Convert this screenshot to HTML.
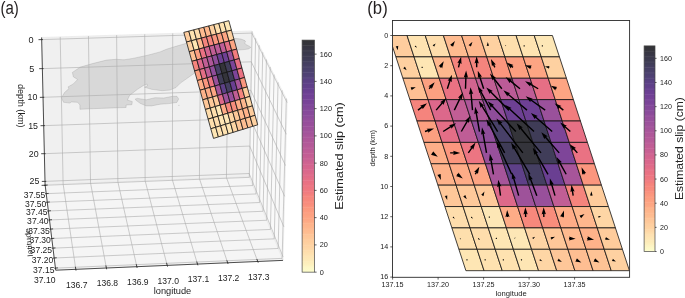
<!DOCTYPE html>
<html><head><meta charset="utf-8"><title>Estimated slip</title>
<style>html,body{margin:0;padding:0;background:#fff}body{width:685px;height:298px;overflow:hidden;font-family:"Liberation Sans",sans-serif}svg{display:block;will-change:transform}</style></head>
<body>
<svg width="685" height="298" viewBox="0 0 685 298" style="display:block">
<rect width="685" height="298" fill="#fff"/>
<polygon points="41.64,37.46 251.84,30.95 249.1,176.68 45.09,184.57" fill="#f0f0f0" stroke="#e6e6e6" stroke-width="0.6" />
<polygon points="251.84,30.95 287.18,100.21 282.97,260.38 249.1,176.68" fill="#f9f9f9" stroke="#e6e6e6" stroke-width="0.6" />
<polygon points="45.09,184.57 249.1,176.68 282.97,260.38 55.7,270.2" fill="#f5f5f5" stroke="#e6e6e6" stroke-width="0.6" />
<g fill="rgba(110,110,110,0.19)" stroke="rgba(90,90,90,0.28)" stroke-width="0.6" stroke-linejoin="round">
<polygon points="80.3,67.1 92.5,63.6 106.5,60.1 116.2,59.3 124,59.8 132.8,58.4 145,55.8 150.5,54.5 160,51.9 166.3,49.3 175,46.6 183.8,44 189,42.3 200,40 220,38 234.6,38.3 241.2,39.1 244.9,40.6 245.6,42 244.5,42.8 245.8,44.5 249.3,46.2 250.8,47.4 248.6,48.9 244.2,49.6 237.9,50 220,60 205,68 195.3,72.6 192.7,74.4 186.5,78.8 180.4,83.1 176,87.5 169.9,90.1 162,90.7 151.5,89.3 144.5,87.2 147.5,85.8 147.1,84 143.6,85.4 137.5,89.3 129.6,95.4 127.4,100.1 132.3,101.5 131.9,104.7 126.1,105 126.1,107.5 113.5,107.9 92.5,108.7 79.9,109.3 79.9,104.9 77.6,102.3 71.5,101.9 69.8,103.1 63.6,102.3 61.4,97.9 64.5,92.6 68.9,88.6 68,86.9 73.3,83.9 77.6,79.5 73.3,76.8 72.4,72.4"/>
<polygon points="135.4,98.9 137.5,98.4 146.3,99.8 155,97.7 163.8,98 172.5,96.3 176.9,96.3 178.7,98.9 176.9,102.4 169,103.6 160.3,104.2 151.5,105.9 146.3,105.9 140.1,103.3 135.8,100.1"/>
<line x1="178" y1="105.4" x2="179.6" y2="105.4"/>
</g>
<g stroke="#ababab" stroke-width="0.6" fill="none">
<polyline points="60.21,36.88 63.11,183.87 75.8,269.33"/>
<polyline points="88.46,36.01 90.53,182.81 106.37,268.01"/>
<polyline points="116.64,35.14 117.86,181.75 136.84,266.69"/>
<polyline points="144.72,34.27 145.12,180.7 167.21,265.38"/>
<polyline points="172.73,33.4 172.3,179.65 197.49,264.07"/>
<polyline points="200.65,32.53 199.41,178.6 227.66,262.77"/>
<polyline points="228.49,31.67 226.43,177.55 257.75,261.47"/>
<polyline points="55.45,268.12 282.15,258.36 286.32,98.53"/>
<polyline points="54.19,258.01 278.15,248.48 282.14,90.34"/>
<polyline points="52.97,248.15 274.25,238.85 278.07,82.35"/>
<polyline points="51.78,238.52 270.45,229.44 274.09,74.55"/>
<polyline points="50.61,229.12 266.73,220.25 270.21,66.95"/>
<polyline points="49.48,219.94 263.1,211.28 266.42,59.52"/>
<polyline points="48.36,210.97 259.55,202.51 262.72,52.27"/>
<polyline points="47.28,202.21 256.08,193.94 259.11,45.19"/>
<polyline points="46.22,193.65 252.69,185.56 255.58,38.28"/>
<polyline points="45.18,185.28 249.38,177.37 252.13,31.52"/>
<polyline points="41.69,39.61 251.8,33.08 287.12,102.56"/>
<polyline points="42.37,68.63 251.26,61.82 286.29,134.23"/>
<polyline points="43.04,97.31 250.72,90.23 285.46,165.5"/>
<polyline points="43.71,125.66 250.2,118.31 284.65,196.36"/>
<polyline points="44.37,153.68 249.67,146.07 283.85,226.83"/>
<polyline points="45.02,181.38 249.16,173.52 283.06,256.92"/>
</g>
<line x1="41.64" y1="37.46" x2="45.09" y2="184.57" stroke="#222" stroke-width="0.8" />
<line x1="45.09" y1="184.57" x2="55.7" y2="270.2" stroke="#222" stroke-width="0.8" />
<line x1="55.7" y1="270.2" x2="282.97" y2="260.38" stroke="#222" stroke-width="0.8" />
<line x1="38.49" y1="39.66" x2="42.89" y2="39.59" stroke="#222" stroke-width="0.8" />
<text x="31.09" y="42.71" font-size="8.7" text-anchor="middle" fill="#222" font-family="Liberation Sans, sans-serif" textLength="5.07" lengthAdjust="spacingAndGlyphs" >0</text>
<line x1="39.17" y1="68.68" x2="43.57" y2="68.61" stroke="#222" stroke-width="0.8" />
<text x="31.77" y="71.73" font-size="8.7" text-anchor="middle" fill="#222" font-family="Liberation Sans, sans-serif" textLength="5.07" lengthAdjust="spacingAndGlyphs" >5</text>
<line x1="39.84" y1="97.36" x2="44.24" y2="97.29" stroke="#222" stroke-width="0.8" />
<text x="32.44" y="100.41" font-size="8.7" text-anchor="middle" fill="#222" font-family="Liberation Sans, sans-serif" textLength="9.84" lengthAdjust="spacingAndGlyphs" >10</text>
<line x1="40.51" y1="125.71" x2="44.91" y2="125.64" stroke="#222" stroke-width="0.8" />
<text x="33.11" y="128.76" font-size="8.7" text-anchor="middle" fill="#222" font-family="Liberation Sans, sans-serif" textLength="9.84" lengthAdjust="spacingAndGlyphs" >15</text>
<line x1="41.17" y1="153.73" x2="45.57" y2="153.66" stroke="#222" stroke-width="0.8" />
<text x="33.77" y="156.78" font-size="8.7" text-anchor="middle" fill="#222" font-family="Liberation Sans, sans-serif" textLength="9.84" lengthAdjust="spacingAndGlyphs" >20</text>
<line x1="41.82" y1="181.43" x2="46.22" y2="181.36" stroke="#222" stroke-width="0.8" />
<text x="34.42" y="184.48" font-size="8.7" text-anchor="middle" fill="#222" font-family="Liberation Sans, sans-serif" textLength="9.84" lengthAdjust="spacingAndGlyphs" >25</text>
<line x1="54.25" y1="268.22" x2="57.95" y2="267.87" stroke="#222" stroke-width="0.8" />
<text x="54.55" y="272.62" font-size="8.7" text-anchor="end" fill="#222" font-family="Liberation Sans, sans-serif" textLength="21.46" lengthAdjust="spacingAndGlyphs" >37.15</text>
<line x1="52.99" y1="258.11" x2="56.69" y2="257.76" stroke="#222" stroke-width="0.8" />
<text x="53.29" y="262.51" font-size="8.7" text-anchor="end" fill="#222" font-family="Liberation Sans, sans-serif" textLength="21.46" lengthAdjust="spacingAndGlyphs" >37.20</text>
<line x1="51.77" y1="248.25" x2="55.47" y2="247.9" stroke="#222" stroke-width="0.8" />
<text x="52.07" y="252.65" font-size="8.7" text-anchor="end" fill="#222" font-family="Liberation Sans, sans-serif" textLength="21.46" lengthAdjust="spacingAndGlyphs" >37.25</text>
<line x1="50.58" y1="238.62" x2="54.28" y2="238.27" stroke="#222" stroke-width="0.8" />
<text x="50.88" y="243.02" font-size="8.7" text-anchor="end" fill="#222" font-family="Liberation Sans, sans-serif" textLength="21.46" lengthAdjust="spacingAndGlyphs" >37.30</text>
<line x1="49.41" y1="229.22" x2="53.11" y2="228.87" stroke="#222" stroke-width="0.8" />
<text x="49.71" y="233.62" font-size="8.7" text-anchor="end" fill="#222" font-family="Liberation Sans, sans-serif" textLength="21.46" lengthAdjust="spacingAndGlyphs" >37.35</text>
<line x1="48.28" y1="220.04" x2="51.98" y2="219.69" stroke="#222" stroke-width="0.8" />
<text x="48.58" y="224.44" font-size="8.7" text-anchor="end" fill="#222" font-family="Liberation Sans, sans-serif" textLength="21.46" lengthAdjust="spacingAndGlyphs" >37.40</text>
<line x1="47.16" y1="211.07" x2="50.86" y2="210.72" stroke="#222" stroke-width="0.8" />
<text x="47.46" y="215.47" font-size="8.7" text-anchor="end" fill="#222" font-family="Liberation Sans, sans-serif" textLength="21.46" lengthAdjust="spacingAndGlyphs" >37.45</text>
<line x1="46.08" y1="202.31" x2="49.78" y2="201.96" stroke="#222" stroke-width="0.8" />
<text x="46.38" y="206.71" font-size="8.7" text-anchor="end" fill="#222" font-family="Liberation Sans, sans-serif" textLength="21.46" lengthAdjust="spacingAndGlyphs" >37.50</text>
<line x1="45.02" y1="193.75" x2="48.72" y2="193.4" stroke="#222" stroke-width="0.8" />
<text x="45.32" y="198.15" font-size="8.7" text-anchor="end" fill="#222" font-family="Liberation Sans, sans-serif" textLength="21.46" lengthAdjust="spacingAndGlyphs" >37.55</text>
<line x1="43.98" y1="185.38" x2="47.68" y2="185.03" stroke="#222" stroke-width="0.8" />
<line x1="41.58" y1="185.38" x2="46.18" y2="185.18" stroke="#222" stroke-width="0.8" />
<text x="55.5" y="282.7" font-size="8.7" text-anchor="end" fill="#222" font-family="Liberation Sans, sans-serif" textLength="21.46" lengthAdjust="spacingAndGlyphs" >37.10</text>
<line x1="75.99" y1="270.61" x2="75.42" y2="266.76" stroke="#222" stroke-width="0.8" />
<text x="76.8" y="287.73" font-size="8.7" text-anchor="middle" fill="#222" font-family="Liberation Sans, sans-serif" textLength="21.46" lengthAdjust="spacingAndGlyphs" >136.7</text>
<line x1="106.61" y1="269.29" x2="105.89" y2="265.45" stroke="#222" stroke-width="0.8" />
<text x="107.37" y="286.41" font-size="8.7" text-anchor="middle" fill="#222" font-family="Liberation Sans, sans-serif" textLength="21.46" lengthAdjust="spacingAndGlyphs" >136.8</text>
<line x1="137.12" y1="267.96" x2="136.27" y2="264.16" stroke="#222" stroke-width="0.8" />
<text x="137.84" y="285.09" font-size="8.7" text-anchor="middle" fill="#222" font-family="Liberation Sans, sans-serif" textLength="21.46" lengthAdjust="spacingAndGlyphs" >136.9</text>
<line x1="167.54" y1="266.64" x2="166.55" y2="262.86" stroke="#222" stroke-width="0.8" />
<text x="168.21" y="283.78" font-size="8.7" text-anchor="middle" fill="#222" font-family="Liberation Sans, sans-serif" textLength="21.46" lengthAdjust="spacingAndGlyphs" >137.0</text>
<line x1="197.86" y1="265.32" x2="196.74" y2="261.58" stroke="#222" stroke-width="0.8" />
<text x="198.49" y="282.47" font-size="8.7" text-anchor="middle" fill="#222" font-family="Liberation Sans, sans-serif" textLength="21.46" lengthAdjust="spacingAndGlyphs" >137.1</text>
<line x1="228.08" y1="264" x2="226.84" y2="260.3" stroke="#222" stroke-width="0.8" />
<text x="228.66" y="281.17" font-size="8.7" text-anchor="middle" fill="#222" font-family="Liberation Sans, sans-serif" textLength="21.46" lengthAdjust="spacingAndGlyphs" >137.2</text>
<line x1="258.2" y1="262.69" x2="256.84" y2="259.03" stroke="#222" stroke-width="0.8" />
<text x="258.75" y="279.87" font-size="8.7" text-anchor="middle" fill="#222" font-family="Liberation Sans, sans-serif" textLength="21.46" lengthAdjust="spacingAndGlyphs" >137.3</text>
<text x="172.5" y="294" font-size="8.7" text-anchor="middle" fill="#222" font-family="Liberation Sans, sans-serif" textLength="37.55" lengthAdjust="spacingAndGlyphs" >longitude</text>
<text transform="translate(18.4,105.8) rotate(90)" font-size="8.7" text-anchor="middle" fill="#222" font-family="Liberation Sans, sans-serif" textLength="43.72" lengthAdjust="spacingAndGlyphs">depth (km)</text>
<text transform="translate(31.3,242) rotate(-97)" font-size="7.5" text-anchor="middle" fill="#222" font-family="Liberation Sans, sans-serif" textLength="28.78" lengthAdjust="spacingAndGlyphs">latitude</text>
<g stroke="#111" stroke-width="0.8" stroke-linejoin="round">
<polygon points="183.8,32.4 188.8,31.1 191.49,40.72 186.5,42.04" fill="#fecd9e"/>
<polygon points="188.8,31.1 193.8,29.8 196.48,39.4 191.49,40.72" fill="#fee3b1"/>
<polygon points="193.8,29.8 198.8,28.5 201.48,38.08 196.48,39.4" fill="#feddac"/>
<polygon points="198.8,28.5 203.8,27.2 206.47,36.76 201.48,38.08" fill="#febb90"/>
<polygon points="203.8,27.2 208.8,25.9 211.46,35.44 206.47,36.76" fill="#feb78d"/>
<polygon points="208.8,25.9 213.8,24.6 216.45,34.12 211.46,35.44" fill="#fed1a1"/>
<polygon points="213.8,24.6 218.8,23.3 221.44,32.8 216.45,34.12" fill="#fedfad"/>
<polygon points="218.8,23.3 223.8,22 226.44,31.48 221.44,32.8" fill="#fee3b1"/>
<polygon points="223.8,22 228.8,20.7 231.43,30.16 226.44,31.48" fill="#fde7b6"/>
<polygon points="186.5,42.04 191.49,40.72 194.18,50.33 189.2,51.67" fill="#fed0a0"/>
<polygon points="191.49,40.72 196.48,39.4 199.17,49 194.18,50.33" fill="#fee6b4"/>
<polygon points="196.48,39.4 201.48,38.08 204.15,47.66 199.17,49" fill="#feb78d"/>
<polygon points="201.48,38.08 206.47,36.76 209.14,46.32 204.15,47.66" fill="#f5847d"/>
<polygon points="206.47,36.76 211.46,35.44 214.12,44.98 209.14,46.32" fill="#f5847d"/>
<polygon points="211.46,35.44 216.45,34.12 219.1,43.64 214.12,44.98" fill="#fb967e"/>
<polygon points="216.45,34.12 221.44,32.8 224.09,42.3 219.1,43.64" fill="#fc9f80"/>
<polygon points="221.44,32.8 226.44,31.48 229.07,40.97 224.09,42.3" fill="#fda583"/>
<polygon points="226.44,31.48 231.43,30.16 234.05,39.63 229.07,40.97" fill="#fed1a1"/>
<polygon points="189.2,51.67 194.18,50.33 196.88,59.95 191.9,61.31" fill="#fec093"/>
<polygon points="194.18,50.33 199.17,49 201.85,58.59 196.88,59.95" fill="#fca081"/>
<polygon points="199.17,49 204.15,47.66 206.83,57.24 201.85,58.59" fill="#ea7283"/>
<polygon points="204.15,47.66 209.14,46.32 211.8,55.88 206.83,57.24" fill="#d2648f"/>
<polygon points="209.14,46.32 214.12,44.98 216.78,54.52 211.8,55.88" fill="#c15e95"/>
<polygon points="214.12,44.98 219.1,43.64 221.75,53.16 216.78,54.52" fill="#bb5b97"/>
<polygon points="219.1,43.64 224.09,42.3 226.73,51.81 221.75,53.16" fill="#bf5d96"/>
<polygon points="224.09,42.3 229.07,40.97 231.71,50.45 226.73,51.81" fill="#e66f85"/>
<polygon points="229.07,40.97 234.05,39.63 236.68,49.09 231.71,50.45" fill="#fda583"/>
<polygon points="191.9,61.31 196.88,59.95 199.57,69.57 194.6,70.95" fill="#f5847d"/>
<polygon points="196.88,59.95 201.85,58.59 204.54,68.19 199.57,69.57" fill="#dc688b"/>
<polygon points="201.85,58.59 206.83,57.24 209.5,66.82 204.54,68.19" fill="#c15e95"/>
<polygon points="206.83,57.24 211.8,55.88 214.47,65.44 209.5,66.82" fill="#ae5799"/>
<polygon points="211.8,55.88 216.78,54.52 219.44,64.06 214.47,65.44" fill="#8f4d9a"/>
<polygon points="216.78,54.52 221.75,53.16 224.41,62.68 219.44,64.06" fill="#6d4093"/>
<polygon points="221.75,53.16 226.73,51.81 229.37,61.31 224.41,62.68" fill="#6e4094"/>
<polygon points="226.73,51.81 231.71,50.45 234.34,59.93 229.37,61.31" fill="#9a519b"/>
<polygon points="231.71,50.45 236.68,49.09 239.31,58.55 234.34,59.93" fill="#f27d7e"/>
<polygon points="194.6,70.95 199.57,69.57 202.26,79.19 197.3,80.58" fill="#fc9f80"/>
<polygon points="199.57,69.57 204.54,68.19 207.22,77.79 202.26,79.19" fill="#e46e86"/>
<polygon points="204.54,68.19 209.5,66.82 212.18,76.39 207.22,77.79" fill="#bf5d96"/>
<polygon points="209.5,66.82 214.47,65.44 217.14,75 212.18,76.39" fill="#8f4d9a"/>
<polygon points="214.47,65.44 219.44,64.06 222.1,73.6 217.14,75" fill="#484068"/>
<polygon points="219.44,64.06 224.41,62.68 227.06,72.21 222.1,73.6" fill="#343439"/>
<polygon points="224.41,62.68 229.37,61.31 232.02,70.81 227.06,72.21" fill="#3f3c57"/>
<polygon points="229.37,61.31 234.34,59.93 236.98,69.41 232.02,70.81" fill="#7c4598"/>
<polygon points="234.34,59.93 239.31,58.55 241.94,68.02 236.98,69.41" fill="#e77085"/>
<polygon points="197.3,80.58 202.26,79.19 204.95,88.8 200,90.22" fill="#feae88"/>
<polygon points="202.26,79.19 207.22,77.79 209.9,87.39 204.95,88.8" fill="#fb967e"/>
<polygon points="207.22,77.79 212.18,76.39 214.85,85.97 209.9,87.39" fill="#ec7582"/>
<polygon points="212.18,76.39 217.14,75 219.81,84.56 214.85,85.97" fill="#98509b"/>
<polygon points="217.14,75 222.1,73.6 224.76,83.14 219.81,84.56" fill="#3f3c57"/>
<polygon points="222.1,73.6 227.06,72.21 229.71,81.73 224.76,83.14" fill="#34343b"/>
<polygon points="227.06,72.21 232.02,70.81 234.66,80.31 229.71,81.73" fill="#403d59"/>
<polygon points="232.02,70.81 236.98,69.41 239.61,78.9 234.66,80.31" fill="#7e4599"/>
<polygon points="236.98,69.41 241.94,68.02 244.56,77.48 239.61,78.9" fill="#ea7283"/>
<polygon points="200,90.22 204.95,88.8 207.64,98.42 202.7,99.85" fill="#feb28a"/>
<polygon points="204.95,88.8 209.9,87.39 212.59,96.99 207.64,98.42" fill="#feac87"/>
<polygon points="209.9,87.39 214.85,85.97 217.53,95.55 212.59,96.99" fill="#fda583"/>
<polygon points="214.85,85.97 219.81,84.56 222.47,94.12 217.53,95.55" fill="#a7559a"/>
<polygon points="219.81,84.56 224.76,83.14 227.42,92.68 222.47,94.12" fill="#5e4088"/>
<polygon points="224.76,83.14 229.71,81.73 232.36,91.25 227.42,92.68" fill="#453f62"/>
<polygon points="229.71,81.73 234.66,80.31 237.3,89.81 232.36,91.25" fill="#6a3f92"/>
<polygon points="234.66,80.31 239.61,78.9 242.25,88.38 237.3,89.81" fill="#a7559a"/>
<polygon points="239.61,78.9 244.56,77.48 247.19,86.95 242.25,88.38" fill="#fb967e"/>
<polygon points="202.7,99.85 207.64,98.42 210.34,108.04 205.4,109.49" fill="#fec799"/>
<polygon points="207.64,98.42 212.59,96.99 215.27,106.58 210.34,108.04" fill="#fec99a"/>
<polygon points="212.59,96.99 217.53,95.55 220.21,105.13 215.27,106.58" fill="#fec99a"/>
<polygon points="217.53,95.55 222.47,94.12 225.14,103.68 220.21,105.13" fill="#dd698a"/>
<polygon points="222.47,94.12 227.42,92.68 230.08,102.22 225.14,103.68" fill="#9e529a"/>
<polygon points="227.42,92.68 232.36,91.25 235.01,100.77 230.08,102.22" fill="#98509b"/>
<polygon points="232.36,91.25 237.3,89.81 239.95,99.32 235.01,100.77" fill="#c15e95"/>
<polygon points="237.3,89.81 242.25,88.38 244.88,97.86 239.95,99.32" fill="#f5847d"/>
<polygon points="242.25,88.38 247.19,86.95 249.82,96.41 244.88,97.86" fill="#fecc9c"/>
<polygon points="205.4,109.49 210.34,108.04 213.03,117.65 208.1,119.13" fill="#feddac"/>
<polygon points="210.34,108.04 215.27,106.58 217.95,116.18 213.03,117.65" fill="#fedfad"/>
<polygon points="215.27,106.58 220.21,105.13 222.88,114.71 217.95,116.18" fill="#fde7b6"/>
<polygon points="220.21,105.13 225.14,103.68 227.81,113.24 222.88,114.71" fill="#feac87"/>
<polygon points="225.14,103.68 230.08,102.22 232.74,111.76 227.81,113.24" fill="#f7887c"/>
<polygon points="230.08,102.22 235.01,100.77 237.66,110.29 232.74,111.76" fill="#f88d7c"/>
<polygon points="235.01,100.77 239.95,99.32 242.59,108.82 237.66,110.29" fill="#feac87"/>
<polygon points="239.95,99.32 244.88,97.86 247.52,107.35 242.59,108.82" fill="#feb78d"/>
<polygon points="244.88,97.86 249.82,96.41 252.45,105.87 247.52,107.35" fill="#fed6a5"/>
<polygon points="208.1,119.13 213.03,117.65 215.72,127.27 210.8,128.76" fill="#fedfad"/>
<polygon points="213.03,117.65 217.95,116.18 220.64,125.78 215.72,127.27" fill="#feddac"/>
<polygon points="217.95,116.18 222.88,114.71 225.56,124.29 220.64,125.78" fill="#fee6b4"/>
<polygon points="222.88,114.71 227.81,113.24 230.48,122.8 225.56,124.29" fill="#fde7b6"/>
<polygon points="227.81,113.24 232.74,111.76 235.4,121.3 230.48,122.8" fill="#fed4a4"/>
<polygon points="232.74,111.76 237.66,110.29 240.32,119.81 235.4,121.3" fill="#fec799"/>
<polygon points="237.66,110.29 242.59,108.82 245.23,118.32 240.32,119.81" fill="#feba8f"/>
<polygon points="242.59,108.82 247.52,107.35 250.15,116.83 245.23,118.32" fill="#feb28a"/>
<polygon points="247.52,107.35 252.45,105.87 255.07,115.34 250.15,116.83" fill="#fecc9c"/>
<polygon points="210.8,128.76 215.72,127.27 218.41,136.89 213.5,138.4" fill="#fee6b4"/>
<polygon points="215.72,127.27 220.64,125.78 223.32,135.38 218.41,136.89" fill="#fee2b0"/>
<polygon points="220.64,125.78 225.56,124.29 228.23,133.87 223.32,135.38" fill="#fee2b0"/>
<polygon points="225.56,124.29 230.48,122.8 233.14,132.36 228.23,133.87" fill="#fee6b4"/>
<polygon points="230.48,122.8 235.4,121.3 238.06,130.84 233.14,132.36" fill="#fed6a5"/>
<polygon points="235.4,121.3 240.32,119.81 242.97,129.33 238.06,130.84" fill="#fec799"/>
<polygon points="240.32,119.81 245.23,118.32 247.88,127.82 242.97,129.33" fill="#febe92"/>
<polygon points="245.23,118.32 250.15,116.83 252.79,126.31 247.88,127.82" fill="#fec395"/>
<polygon points="250.15,116.83 255.07,115.34 257.7,124.8 252.79,126.31" fill="#fed1a1"/>
</g>
<defs><linearGradient id="cb302" x1="0" y1="1" x2="0" y2="0">
<stop offset="0" stop-color="#fcfdcc"/>
<stop offset="0.02" stop-color="#fdf7c6"/>
<stop offset="0.03" stop-color="#fdf2c0"/>
<stop offset="0.05" stop-color="#fdeab8"/>
<stop offset="0.07" stop-color="#fee4b3"/>
<stop offset="0.09" stop-color="#feddac"/>
<stop offset="0.1" stop-color="#fed7a7"/>
<stop offset="0.12" stop-color="#fed1a1"/>
<stop offset="0.14" stop-color="#feca9b"/>
<stop offset="0.16" stop-color="#fec497"/>
<stop offset="0.17" stop-color="#febd91"/>
<stop offset="0.19" stop-color="#feb78d"/>
<stop offset="0.21" stop-color="#feb189"/>
<stop offset="0.22" stop-color="#fda985"/>
<stop offset="0.24" stop-color="#fda382"/>
<stop offset="0.26" stop-color="#fc9c7f"/>
<stop offset="0.28" stop-color="#fb967e"/>
<stop offset="0.29" stop-color="#f98e7d"/>
<stop offset="0.31" stop-color="#f7887c"/>
<stop offset="0.33" stop-color="#f5837d"/>
<stop offset="0.34" stop-color="#f17c7f"/>
<stop offset="0.36" stop-color="#ee7781"/>
<stop offset="0.38" stop-color="#ea7283"/>
<stop offset="0.4" stop-color="#e56f86"/>
<stop offset="0.41" stop-color="#e16b88"/>
<stop offset="0.43" stop-color="#db688b"/>
<stop offset="0.45" stop-color="#d6658e"/>
<stop offset="0.47" stop-color="#d06390"/>
<stop offset="0.48" stop-color="#ca6192"/>
<stop offset="0.5" stop-color="#c45e94"/>
<stop offset="0.52" stop-color="#bf5d96"/>
<stop offset="0.53" stop-color="#b95b97"/>
<stop offset="0.55" stop-color="#b35998"/>
<stop offset="0.57" stop-color="#ae5799"/>
<stop offset="0.59" stop-color="#a7559a"/>
<stop offset="0.6" stop-color="#a2539a"/>
<stop offset="0.62" stop-color="#9d529b"/>
<stop offset="0.64" stop-color="#974f9b"/>
<stop offset="0.66" stop-color="#924d9b"/>
<stop offset="0.67" stop-color="#8b4b9a"/>
<stop offset="0.69" stop-color="#86499a"/>
<stop offset="0.71" stop-color="#814799"/>
<stop offset="0.72" stop-color="#7b4498"/>
<stop offset="0.74" stop-color="#764297"/>
<stop offset="0.76" stop-color="#704095"/>
<stop offset="0.78" stop-color="#6a3f92"/>
<stop offset="0.79" stop-color="#643f8d"/>
<stop offset="0.81" stop-color="#5e4088"/>
<stop offset="0.83" stop-color="#594082"/>
<stop offset="0.84" stop-color="#524179"/>
<stop offset="0.86" stop-color="#4d4171"/>
<stop offset="0.88" stop-color="#484068"/>
<stop offset="0.9" stop-color="#443e60"/>
<stop offset="0.91" stop-color="#403d59"/>
<stop offset="0.93" stop-color="#3c3a50"/>
<stop offset="0.95" stop-color="#393849"/>
<stop offset="0.97" stop-color="#363541"/>
<stop offset="0.98" stop-color="#34343b"/>
<stop offset="1" stop-color="#333336"/>
</linearGradient></defs>
<rect x="302.1" y="40.1" width="12.3" height="232.05" fill="url(#cb302)" stroke="#444" stroke-width="0.7"/>
<g stroke="#fff" stroke-opacity="0.09" stroke-width="0.8">
<line x1="302.5" y1="45.5" x2="314" y2="45.5" stroke="#fff" stroke-width="0.8" />
<line x1="302.5" y1="50.9" x2="314" y2="50.9" stroke="#fff" stroke-width="0.8" />
<line x1="302.5" y1="56.3" x2="314" y2="56.3" stroke="#fff" stroke-width="0.8" />
<line x1="302.5" y1="61.7" x2="314" y2="61.7" stroke="#fff" stroke-width="0.8" />
<line x1="302.5" y1="67.1" x2="314" y2="67.1" stroke="#fff" stroke-width="0.8" />
<line x1="302.5" y1="72.5" x2="314" y2="72.5" stroke="#fff" stroke-width="0.8" />
<line x1="302.5" y1="77.9" x2="314" y2="77.9" stroke="#fff" stroke-width="0.8" />
<line x1="302.5" y1="83.3" x2="314" y2="83.3" stroke="#fff" stroke-width="0.8" />
<line x1="302.5" y1="88.7" x2="314" y2="88.7" stroke="#fff" stroke-width="0.8" />
<line x1="302.5" y1="94.1" x2="314" y2="94.1" stroke="#fff" stroke-width="0.8" />
<line x1="302.5" y1="99.5" x2="314" y2="99.5" stroke="#fff" stroke-width="0.8" />
<line x1="302.5" y1="104.9" x2="314" y2="104.9" stroke="#fff" stroke-width="0.8" />
<line x1="302.5" y1="110.3" x2="314" y2="110.3" stroke="#fff" stroke-width="0.8" />
<line x1="302.5" y1="115.7" x2="314" y2="115.7" stroke="#fff" stroke-width="0.8" />
<line x1="302.5" y1="121.1" x2="314" y2="121.1" stroke="#fff" stroke-width="0.8" />
<line x1="302.5" y1="126.5" x2="314" y2="126.5" stroke="#fff" stroke-width="0.8" />
<line x1="302.5" y1="131.9" x2="314" y2="131.9" stroke="#fff" stroke-width="0.8" />
<line x1="302.5" y1="137.3" x2="314" y2="137.3" stroke="#fff" stroke-width="0.8" />
<line x1="302.5" y1="142.7" x2="314" y2="142.7" stroke="#fff" stroke-width="0.8" />
<line x1="302.5" y1="148.1" x2="314" y2="148.1" stroke="#fff" stroke-width="0.8" />
<line x1="302.5" y1="153.5" x2="314" y2="153.5" stroke="#fff" stroke-width="0.8" />
<line x1="302.5" y1="158.9" x2="314" y2="158.9" stroke="#fff" stroke-width="0.8" />
<line x1="302.5" y1="164.3" x2="314" y2="164.3" stroke="#fff" stroke-width="0.8" />
<line x1="302.5" y1="169.7" x2="314" y2="169.7" stroke="#fff" stroke-width="0.8" />
<line x1="302.5" y1="175.1" x2="314" y2="175.1" stroke="#fff" stroke-width="0.8" />
<line x1="302.5" y1="180.5" x2="314" y2="180.5" stroke="#fff" stroke-width="0.8" />
<line x1="302.5" y1="185.9" x2="314" y2="185.9" stroke="#fff" stroke-width="0.8" />
<line x1="302.5" y1="191.3" x2="314" y2="191.3" stroke="#fff" stroke-width="0.8" />
<line x1="302.5" y1="196.7" x2="314" y2="196.7" stroke="#fff" stroke-width="0.8" />
<line x1="302.5" y1="202.1" x2="314" y2="202.1" stroke="#fff" stroke-width="0.8" />
<line x1="302.5" y1="207.5" x2="314" y2="207.5" stroke="#fff" stroke-width="0.8" />
<line x1="302.5" y1="212.9" x2="314" y2="212.9" stroke="#fff" stroke-width="0.8" />
<line x1="302.5" y1="218.3" x2="314" y2="218.3" stroke="#fff" stroke-width="0.8" />
<line x1="302.5" y1="223.7" x2="314" y2="223.7" stroke="#fff" stroke-width="0.8" />
<line x1="302.5" y1="229.1" x2="314" y2="229.1" stroke="#fff" stroke-width="0.8" />
<line x1="302.5" y1="234.5" x2="314" y2="234.5" stroke="#fff" stroke-width="0.8" />
<line x1="302.5" y1="239.9" x2="314" y2="239.9" stroke="#fff" stroke-width="0.8" />
<line x1="302.5" y1="245.3" x2="314" y2="245.3" stroke="#fff" stroke-width="0.8" />
<line x1="302.5" y1="250.7" x2="314" y2="250.7" stroke="#fff" stroke-width="0.8" />
<line x1="302.5" y1="256.1" x2="314" y2="256.1" stroke="#fff" stroke-width="0.8" />
<line x1="302.5" y1="261.5" x2="314" y2="261.5" stroke="#fff" stroke-width="0.8" />
<line x1="302.5" y1="266.9" x2="314" y2="266.9" stroke="#fff" stroke-width="0.8" />
</g>
<line x1="314.4" y1="272.15" x2="316.6" y2="272.15" stroke="#222" stroke-width="0.7" />
<text x="319.8" y="274.71" font-size="7.168000000000001" text-anchor="start" fill="#222" font-family="Liberation Sans, sans-serif" textLength="4.07" lengthAdjust="spacingAndGlyphs" >0</text>
<line x1="314.4" y1="244.9" x2="316.6" y2="244.9" stroke="#222" stroke-width="0.7" />
<text x="319.8" y="247.46" font-size="7.168000000000001" text-anchor="start" fill="#222" font-family="Liberation Sans, sans-serif" textLength="8.14" lengthAdjust="spacingAndGlyphs" >20</text>
<line x1="314.4" y1="217.65" x2="316.6" y2="217.65" stroke="#222" stroke-width="0.7" />
<text x="319.8" y="220.21" font-size="7.168000000000001" text-anchor="start" fill="#222" font-family="Liberation Sans, sans-serif" textLength="8.14" lengthAdjust="spacingAndGlyphs" >40</text>
<line x1="314.4" y1="190.39" x2="316.6" y2="190.39" stroke="#222" stroke-width="0.7" />
<text x="319.8" y="192.95" font-size="7.168000000000001" text-anchor="start" fill="#222" font-family="Liberation Sans, sans-serif" textLength="8.14" lengthAdjust="spacingAndGlyphs" >60</text>
<line x1="314.4" y1="163.14" x2="316.6" y2="163.14" stroke="#222" stroke-width="0.7" />
<text x="319.8" y="165.7" font-size="7.168000000000001" text-anchor="start" fill="#222" font-family="Liberation Sans, sans-serif" textLength="8.14" lengthAdjust="spacingAndGlyphs" >80</text>
<line x1="314.4" y1="135.89" x2="316.6" y2="135.89" stroke="#222" stroke-width="0.7" />
<text x="319.8" y="138.45" font-size="7.168000000000001" text-anchor="start" fill="#222" font-family="Liberation Sans, sans-serif" textLength="12.21" lengthAdjust="spacingAndGlyphs" >100</text>
<line x1="314.4" y1="108.64" x2="316.6" y2="108.64" stroke="#222" stroke-width="0.7" />
<text x="319.8" y="111.2" font-size="7.168000000000001" text-anchor="start" fill="#222" font-family="Liberation Sans, sans-serif" textLength="12.21" lengthAdjust="spacingAndGlyphs" >120</text>
<line x1="314.4" y1="81.39" x2="316.6" y2="81.39" stroke="#222" stroke-width="0.7" />
<text x="319.8" y="83.95" font-size="7.168000000000001" text-anchor="start" fill="#222" font-family="Liberation Sans, sans-serif" textLength="12.21" lengthAdjust="spacingAndGlyphs" >140</text>
<line x1="314.4" y1="54.13" x2="316.6" y2="54.13" stroke="#222" stroke-width="0.7" />
<text x="319.8" y="56.69" font-size="7.168000000000001" text-anchor="start" fill="#222" font-family="Liberation Sans, sans-serif" textLength="12.21" lengthAdjust="spacingAndGlyphs" >160</text>
<text transform="translate(343.1,156) rotate(-90)" font-size="10.9" text-anchor="middle" fill="#222" font-family="Liberation Sans, sans-serif" textLength="107.6" lengthAdjust="spacingAndGlyphs">Estimated slip (cm)</text>
<text x="0.4" y="13.9" font-size="17.6" text-anchor="start" fill="#231f20" font-family="Liberation Sans, sans-serif" textLength="18.4" lengthAdjust="spacingAndGlyphs" >(a)</text>
<rect x="392.55" y="20.45" width="237.05" height="256.85" fill="#fff" stroke="none"/>
<clipPath id="clipb"><rect x="392.55" y="20.45" width="237.05" height="256.85"/></clipPath>
<g clip-path="url(#clipb)">
<g stroke="#111" stroke-width="0.8" stroke-linejoin="round">
<polygon points="388.9,35.5 407.07,35.5 414.07,56.88 395.9,56.88" fill="#fecd9e"/>
<polygon points="407.07,35.5 425.24,35.5 432.24,56.88 414.07,56.88" fill="#fee3b1"/>
<polygon points="425.24,35.5 443.41,35.5 450.41,56.88 432.24,56.88" fill="#feddac"/>
<polygon points="443.41,35.5 461.58,35.5 468.58,56.88 450.41,56.88" fill="#febb90"/>
<polygon points="461.58,35.5 479.75,35.5 486.75,56.88 468.58,56.88" fill="#feb78d"/>
<polygon points="479.75,35.5 497.92,35.5 504.92,56.88 486.75,56.88" fill="#fed1a1"/>
<polygon points="497.92,35.5 516.09,35.5 523.09,56.88 504.92,56.88" fill="#fedfad"/>
<polygon points="516.09,35.5 534.26,35.5 541.26,56.88 523.09,56.88" fill="#fee3b1"/>
<polygon points="534.26,35.5 552.43,35.5 559.43,56.88 541.26,56.88" fill="#fde7b6"/>
<polygon points="395.9,56.88 414.07,56.88 421.07,78.26 402.9,78.26" fill="#fed0a0"/>
<polygon points="414.07,56.88 432.24,56.88 439.24,78.26 421.07,78.26" fill="#fee6b4"/>
<polygon points="432.24,56.88 450.41,56.88 457.41,78.26 439.24,78.26" fill="#feb78d"/>
<polygon points="450.41,56.88 468.58,56.88 475.58,78.26 457.41,78.26" fill="#f5847d"/>
<polygon points="468.58,56.88 486.75,56.88 493.75,78.26 475.58,78.26" fill="#f5847d"/>
<polygon points="486.75,56.88 504.92,56.88 511.92,78.26 493.75,78.26" fill="#fb967e"/>
<polygon points="504.92,56.88 523.09,56.88 530.09,78.26 511.92,78.26" fill="#fc9f80"/>
<polygon points="523.09,56.88 541.26,56.88 548.26,78.26 530.09,78.26" fill="#fda583"/>
<polygon points="541.26,56.88 559.43,56.88 566.43,78.26 548.26,78.26" fill="#fed1a1"/>
<polygon points="402.9,78.26 421.07,78.26 428.07,99.64 409.9,99.64" fill="#fec093"/>
<polygon points="421.07,78.26 439.24,78.26 446.24,99.64 428.07,99.64" fill="#fca081"/>
<polygon points="439.24,78.26 457.41,78.26 464.41,99.64 446.24,99.64" fill="#ea7283"/>
<polygon points="457.41,78.26 475.58,78.26 482.58,99.64 464.41,99.64" fill="#d2648f"/>
<polygon points="475.58,78.26 493.75,78.26 500.75,99.64 482.58,99.64" fill="#c15e95"/>
<polygon points="493.75,78.26 511.92,78.26 518.92,99.64 500.75,99.64" fill="#bb5b97"/>
<polygon points="511.92,78.26 530.09,78.26 537.09,99.64 518.92,99.64" fill="#bf5d96"/>
<polygon points="530.09,78.26 548.26,78.26 555.26,99.64 537.09,99.64" fill="#e66f85"/>
<polygon points="548.26,78.26 566.43,78.26 573.43,99.64 555.26,99.64" fill="#fda583"/>
<polygon points="409.9,99.64 428.07,99.64 435.07,121.02 416.9,121.02" fill="#f5847d"/>
<polygon points="428.07,99.64 446.24,99.64 453.24,121.02 435.07,121.02" fill="#dc688b"/>
<polygon points="446.24,99.64 464.41,99.64 471.41,121.02 453.24,121.02" fill="#c15e95"/>
<polygon points="464.41,99.64 482.58,99.64 489.58,121.02 471.41,121.02" fill="#ae5799"/>
<polygon points="482.58,99.64 500.75,99.64 507.75,121.02 489.58,121.02" fill="#8f4d9a"/>
<polygon points="500.75,99.64 518.92,99.64 525.92,121.02 507.75,121.02" fill="#6d4093"/>
<polygon points="518.92,99.64 537.09,99.64 544.09,121.02 525.92,121.02" fill="#6e4094"/>
<polygon points="537.09,99.64 555.26,99.64 562.26,121.02 544.09,121.02" fill="#9a519b"/>
<polygon points="555.26,99.64 573.43,99.64 580.43,121.02 562.26,121.02" fill="#f27d7e"/>
<polygon points="416.9,121.02 435.07,121.02 442.07,142.4 423.9,142.4" fill="#fc9f80"/>
<polygon points="435.07,121.02 453.24,121.02 460.24,142.4 442.07,142.4" fill="#e46e86"/>
<polygon points="453.24,121.02 471.41,121.02 478.41,142.4 460.24,142.4" fill="#bf5d96"/>
<polygon points="471.41,121.02 489.58,121.02 496.58,142.4 478.41,142.4" fill="#8f4d9a"/>
<polygon points="489.58,121.02 507.75,121.02 514.75,142.4 496.58,142.4" fill="#484068"/>
<polygon points="507.75,121.02 525.92,121.02 532.92,142.4 514.75,142.4" fill="#343439"/>
<polygon points="525.92,121.02 544.09,121.02 551.09,142.4 532.92,142.4" fill="#3f3c57"/>
<polygon points="544.09,121.02 562.26,121.02 569.26,142.4 551.09,142.4" fill="#7c4598"/>
<polygon points="562.26,121.02 580.43,121.02 587.43,142.4 569.26,142.4" fill="#e77085"/>
<polygon points="423.9,142.4 442.07,142.4 449.07,163.78 430.9,163.78" fill="#feae88"/>
<polygon points="442.07,142.4 460.24,142.4 467.24,163.78 449.07,163.78" fill="#fb967e"/>
<polygon points="460.24,142.4 478.41,142.4 485.41,163.78 467.24,163.78" fill="#ec7582"/>
<polygon points="478.41,142.4 496.58,142.4 503.58,163.78 485.41,163.78" fill="#98509b"/>
<polygon points="496.58,142.4 514.75,142.4 521.75,163.78 503.58,163.78" fill="#3f3c57"/>
<polygon points="514.75,142.4 532.92,142.4 539.92,163.78 521.75,163.78" fill="#34343b"/>
<polygon points="532.92,142.4 551.09,142.4 558.09,163.78 539.92,163.78" fill="#403d59"/>
<polygon points="551.09,142.4 569.26,142.4 576.26,163.78 558.09,163.78" fill="#7e4599"/>
<polygon points="569.26,142.4 587.43,142.4 594.43,163.78 576.26,163.78" fill="#ea7283"/>
<polygon points="430.9,163.78 449.07,163.78 456.07,185.16 437.9,185.16" fill="#feb28a"/>
<polygon points="449.07,163.78 467.24,163.78 474.24,185.16 456.07,185.16" fill="#feac87"/>
<polygon points="467.24,163.78 485.41,163.78 492.41,185.16 474.24,185.16" fill="#fda583"/>
<polygon points="485.41,163.78 503.58,163.78 510.58,185.16 492.41,185.16" fill="#a7559a"/>
<polygon points="503.58,163.78 521.75,163.78 528.75,185.16 510.58,185.16" fill="#5e4088"/>
<polygon points="521.75,163.78 539.92,163.78 546.92,185.16 528.75,185.16" fill="#453f62"/>
<polygon points="539.92,163.78 558.09,163.78 565.09,185.16 546.92,185.16" fill="#6a3f92"/>
<polygon points="558.09,163.78 576.26,163.78 583.26,185.16 565.09,185.16" fill="#a7559a"/>
<polygon points="576.26,163.78 594.43,163.78 601.43,185.16 583.26,185.16" fill="#fb967e"/>
<polygon points="437.9,185.16 456.07,185.16 463.07,206.54 444.9,206.54" fill="#fec799"/>
<polygon points="456.07,185.16 474.24,185.16 481.24,206.54 463.07,206.54" fill="#fec99a"/>
<polygon points="474.24,185.16 492.41,185.16 499.41,206.54 481.24,206.54" fill="#fec99a"/>
<polygon points="492.41,185.16 510.58,185.16 517.58,206.54 499.41,206.54" fill="#dd698a"/>
<polygon points="510.58,185.16 528.75,185.16 535.75,206.54 517.58,206.54" fill="#9e529a"/>
<polygon points="528.75,185.16 546.92,185.16 553.92,206.54 535.75,206.54" fill="#98509b"/>
<polygon points="546.92,185.16 565.09,185.16 572.09,206.54 553.92,206.54" fill="#c15e95"/>
<polygon points="565.09,185.16 583.26,185.16 590.26,206.54 572.09,206.54" fill="#f5847d"/>
<polygon points="583.26,185.16 601.43,185.16 608.43,206.54 590.26,206.54" fill="#fecc9c"/>
<polygon points="444.9,206.54 463.07,206.54 470.07,227.92 451.9,227.92" fill="#feddac"/>
<polygon points="463.07,206.54 481.24,206.54 488.24,227.92 470.07,227.92" fill="#fedfad"/>
<polygon points="481.24,206.54 499.41,206.54 506.41,227.92 488.24,227.92" fill="#fde7b6"/>
<polygon points="499.41,206.54 517.58,206.54 524.58,227.92 506.41,227.92" fill="#feac87"/>
<polygon points="517.58,206.54 535.75,206.54 542.75,227.92 524.58,227.92" fill="#f7887c"/>
<polygon points="535.75,206.54 553.92,206.54 560.92,227.92 542.75,227.92" fill="#f88d7c"/>
<polygon points="553.92,206.54 572.09,206.54 579.09,227.92 560.92,227.92" fill="#feac87"/>
<polygon points="572.09,206.54 590.26,206.54 597.26,227.92 579.09,227.92" fill="#feb78d"/>
<polygon points="590.26,206.54 608.43,206.54 615.43,227.92 597.26,227.92" fill="#fed6a5"/>
<polygon points="451.9,227.92 470.07,227.92 477.07,249.3 458.9,249.3" fill="#fedfad"/>
<polygon points="470.07,227.92 488.24,227.92 495.24,249.3 477.07,249.3" fill="#feddac"/>
<polygon points="488.24,227.92 506.41,227.92 513.41,249.3 495.24,249.3" fill="#fee6b4"/>
<polygon points="506.41,227.92 524.58,227.92 531.58,249.3 513.41,249.3" fill="#fde7b6"/>
<polygon points="524.58,227.92 542.75,227.92 549.75,249.3 531.58,249.3" fill="#fed4a4"/>
<polygon points="542.75,227.92 560.92,227.92 567.92,249.3 549.75,249.3" fill="#fec799"/>
<polygon points="560.92,227.92 579.09,227.92 586.09,249.3 567.92,249.3" fill="#feba8f"/>
<polygon points="579.09,227.92 597.26,227.92 604.26,249.3 586.09,249.3" fill="#feb28a"/>
<polygon points="597.26,227.92 615.43,227.92 622.43,249.3 604.26,249.3" fill="#fecc9c"/>
<polygon points="458.9,249.3 477.07,249.3 484.07,270.68 465.9,270.68" fill="#fee6b4"/>
<polygon points="477.07,249.3 495.24,249.3 502.24,270.68 484.07,270.68" fill="#fee2b0"/>
<polygon points="495.24,249.3 513.41,249.3 520.41,270.68 502.24,270.68" fill="#fee2b0"/>
<polygon points="513.41,249.3 531.58,249.3 538.58,270.68 520.41,270.68" fill="#fee6b4"/>
<polygon points="531.58,249.3 549.75,249.3 556.75,270.68 538.58,270.68" fill="#fed6a5"/>
<polygon points="549.75,249.3 567.92,249.3 574.92,270.68 556.75,270.68" fill="#fec799"/>
<polygon points="567.92,249.3 586.09,249.3 593.09,270.68 574.92,270.68" fill="#febe92"/>
<polygon points="586.09,249.3 604.26,249.3 611.26,270.68 593.09,270.68" fill="#fec395"/>
<polygon points="604.26,249.3 622.43,249.3 629.43,270.68 611.26,270.68" fill="#fed1a1"/>
</g>
<g fill="#000">
<polygon points="397.42,45.91 397.49,46.35 398.28,45.76 397.75,50.32 395.69,46.22 396.63,46.5 396.55,46.07"/>
<polygon points="415.34,45.81 415.52,45.99 415.71,45.44 416.99,47.83 414.6,46.54 415.15,46.36 414.97,46.17"/>
<polygon points="433.06,45.76 433.3,45.5 432.54,45.29 435.67,43.39 434.11,46.69 433.82,45.96 433.59,46.22"/>
<polygon points="451,45.65 451.35,45.15 450.02,44.96 454.94,41.08 452.97,47.02 452.33,45.84 451.99,46.33"/>
<polygon points="469.25,45.71 469.53,45.3 468.42,45.15 472.46,41.84 470.91,46.83 470.36,45.86 470.08,46.27"/>
<polygon points="487.44,45.99 487.44,45.59 486.63,45.99 487.83,41.99 489.03,45.99 488.23,45.59 488.23,45.99"/>
<polygon points="505.9,46.1 505.79,45.99 505.69,46.31 504.94,44.93 506.32,45.67 506,45.78 506.11,45.88"/>
<polygon points="524.89,45.99 524.53,46.61 523.82,46.61 523.46,45.99 523.82,45.37 524.53,45.37"/>
<polygon points="543.06,45.99 542.7,46.61 541.99,46.61 541.63,45.99 541.99,45.37 542.7,45.37"/>
<polygon points="404.28,67.1 404.55,67.4 404.88,66.57 406.66,70.34 403.09,68.17 403.96,67.93 403.69,67.64"/>
<polygon points="422.87,67.37 422.51,67.99 421.8,67.99 421.44,67.37 421.8,66.75 422.51,66.75"/>
<polygon points="439.71,67.03 440.05,66.42 438.49,66.35 443.72,61.25 442.16,68.39 441.28,67.1 440.94,67.71"/>
<polygon points="457.8,67.2 458.91,62.77 457.35,63.12 461.16,56.7 461.51,64.15 460.29,63.11 459.19,67.54"/>
<polygon points="475.95,67.37 475.95,62.7 474.52,63.42 476.66,56.27 478.81,63.42 477.38,62.7 477.38,67.37"/>
<polygon points="494.19,67.67 492.98,65.08 491.98,66.33 490.9,58.94 495.87,64.51 494.27,64.47 495.48,67.07"/>
<polygon points="512.57,67.94 511.17,66.88 510.88,68.45 506.46,62.44 513.46,65.03 512.03,65.74 513.44,66.8"/>
<polygon points="530.96,67.98 530.35,67.77 530.54,69.21 525.03,65.25 531.81,65.53 530.77,66.54 531.39,66.76"/>
<polygon points="549.25,67.81 548.81,67.72 549.06,68.69 544.94,66.43 549.63,66.05 549,66.84 549.44,66.93"/>
<polygon points="410.84,88.27 411.32,88.13 410.55,87.32 415.77,87.29 411.42,90.18 411.61,89.08 411.13,89.23"/>
<polygon points="428.61,88.29 430,86.63 428.44,86.26 434.68,82.16 431.73,89.02 431.09,87.55 429.7,89.21"/>
<polygon points="446.64,88.53 449.22,80.6 447.64,80.84 451.89,74.7 451.72,82.16 450.58,81.04 448.01,88.97"/>
<polygon points="464.78,88.73 465.19,76.93 463.74,77.59 466.13,70.52 468.03,77.74 466.62,76.98 466.21,88.77"/>
<polygon points="482.98,88.97 479.08,76.97 477.95,78.09 477.78,70.63 482.03,76.76 480.44,76.53 484.35,88.53"/>
<polygon points="501.27,89.19 493.31,79 492.63,80.45 489.91,73.49 496.01,77.81 494.44,78.12 502.4,88.31"/>
<polygon points="519.56,89.31 510.14,81.68 509.8,83.25 505.59,77.08 512.5,79.91 511.04,80.57 520.45,88.19"/>
<polygon points="537.82,89.37 530.24,85 530.15,86.59 525.03,81.16 532.29,82.88 530.96,83.76 538.53,88.13"/>
<polygon points="556.04,89.3 555.49,89 555.43,90.4 550.83,85.7 557.26,87.1 556.1,87.89 556.65,88.2"/>
<polygon points="417.55,109.56 421.48,106.53 420.04,105.84 427.02,103.17 422.66,109.24 422.35,107.67 418.42,110.7"/>
<polygon points="435.61,109.67 441.66,102.53 440.11,102.15 446.37,98.09 443.38,104.93 442.75,103.46 436.7,110.59"/>
<polygon points="453.68,109.82 459.57,97.74 457.97,97.76 463.04,92.27 461.83,99.64 460.86,98.37 454.97,110.44"/>
<polygon points="471.78,110.19 470.33,93.64 468.97,94.48 470.49,87.17 473.25,94.1 471.76,93.52 473.21,110.07"/>
<polygon points="490.03,110.47 480.22,92.02 479.3,93.32 477.83,86 483.09,91.31 481.49,91.35 491.3,109.79"/>
<polygon points="508.33,110.64 490.3,92.61 489.8,94.12 486.26,87.55 492.83,91.09 491.31,91.6 509.34,109.62"/>
<polygon points="526.55,110.68 507.83,94.98 507.46,96.53 503.36,90.29 510.22,93.25 508.75,93.88 527.46,109.58"/>
<polygon points="544.76,110.71 530.54,100.57 530.29,102.15 525.71,96.25 532.78,98.65 531.37,99.4 545.59,109.55"/>
<polygon points="562.9,110.69 559.17,107.72 558.84,109.29 554.58,103.16 561.51,105.93 560.06,106.6 563.79,109.57"/>
<polygon points="424.76,130.83 427.75,129.82 426.62,128.69 434.08,128.43 427.99,132.76 428.21,131.17 425.21,132.19"/>
<polygon points="442.77,130.91 450.4,126.04 449.03,125.22 456.22,123.19 451.34,128.84 451.17,127.25 443.54,132.11"/>
<polygon points="460.71,131.15 466.56,121.02 464.96,120.92 470.39,115.8 468.68,123.07 467.8,121.73 461.94,131.87"/>
<polygon points="478.79,131.63 475.55,113.27 474.27,114.22 475.14,106.81 478.49,113.48 476.96,113.02 480.2,131.39"/>
<polygon points="497.06,131.88 481.45,106.52 480.61,107.88 478.69,100.67 484.26,105.63 482.67,105.78 498.27,131.14"/>
<polygon points="515.31,132 491.58,106.54 491.02,108.04 487.71,101.35 494.16,105.12 492.62,105.57 516.36,131.02"/>
<polygon points="533.52,132.04 509.12,109.52 508.68,111.06 504.88,104.63 511.59,107.9 510.09,108.47 534.49,130.98"/>
<polygon points="551.71,132.05 535.29,117.78 534.89,119.33 530.9,113.02 537.71,116.09 536.23,116.7 552.64,130.97"/>
<polygon points="569.87,132.05 564.52,127.36 564.12,128.91 560.15,122.59 566.94,125.68 565.46,126.29 570.82,130.97"/>
<polygon points="432.37,152.31 432.96,152.7 433.15,151.14 437.81,156.77 430.82,154.64 432.18,153.86 431.6,153.47"/>
<polygon points="450.15,152.17 453.82,152.17 453.1,150.74 460.25,152.89 453.1,155.03 453.82,153.6 450.15,153.6"/>
<polygon points="467.74,152.48 471.28,147.43 469.69,147.2 475.55,142.57 473.21,149.66 472.45,148.25 468.91,153.3"/>
<polygon points="485.79,153.01 482.39,133.7 481.1,134.65 481.97,127.24 485.33,133.91 483.79,133.45 487.2,152.77"/>
<polygon points="504.04,153.23 488.81,125.18 487.89,126.49 486.37,119.19 491.66,124.45 490.06,124.5 505.29,152.55"/>
<polygon points="522.27,153.33 499.78,124.02 499.08,125.45 496.43,118.48 502.48,122.84 500.91,123.15 523.4,152.45"/>
<polygon points="540.45,153.34 520.15,128.72 519.5,130.18 516.61,123.3 522.81,127.45 521.26,127.81 541.56,152.44"/>
<polygon points="558.64,153.36 545,137.67 544.39,139.15 541.32,132.35 547.63,136.33 546.08,136.73 559.71,152.42"/>
<polygon points="576.81,153.36 573.42,149.46 572.81,150.94 569.73,144.14 576.04,148.12 574.5,148.52 577.88,152.42"/>
<polygon points="439.55,174.08 439.74,174.65 440.69,173.7 440.88,179.96 437.28,174.84 438.61,175.03 438.42,174.46"/>
<polygon points="457.57,173.7 458.13,174.12 458.39,172.57 462.82,178.38 455.92,175.97 457.31,175.25 456.74,174.84"/>
<polygon points="474.69,173.93 475.71,172.02 474.11,171.98 479.36,166.68 477.9,174 476.97,172.69 475.96,174.61"/>
<polygon points="492.79,174.39 490.28,160.16 489,161.11 489.87,153.7 493.22,160.36 491.69,159.91 494.2,174.15"/>
<polygon points="511.01,174.57 498.53,147.3 497.53,148.55 496.5,141.15 501.43,146.76 499.83,146.71 512.32,173.97"/>
<polygon points="529.22,174.63 513.74,148.45 512.87,149.8 511.08,142.55 516.56,147.61 514.97,147.72 530.45,173.91"/>
<polygon points="547.39,174.63 535.33,153.75 534.45,155.09 532.74,147.82 538.17,152.94 536.57,153.04 548.62,173.91"/>
<polygon points="565.55,174.62 559.08,162.95 558.18,164.27 556.59,156.98 561.93,162.19 560.34,162.26 566.8,173.92"/>
<polygon points="583.68,174.54 583.28,173.55 582.23,174.75 581.54,167.32 586.2,173.14 584.61,173.01 585.01,174"/>
<polygon points="446.41,195.53 446.53,195.95 447.25,195.29 447.2,199.88 444.72,196.01 445.68,196.19 445.56,195.77"/>
<polygon points="464.51,195.39 464.77,195.74 465.21,194.86 466.8,199.16 463.1,196.44 464.07,196.27 463.8,195.91"/>
<polygon points="481.91,195.44 482.12,195.02 481.07,195.01 484.46,191.46 483.58,196.29 482.96,195.44 482.74,195.86"/>
<polygon points="499.79,195.75 498.46,186.28 497.14,187.19 498.27,179.81 501.39,186.59 499.87,186.08 501.2,195.55"/>
<polygon points="517.98,195.85 513.01,178.54 511.84,179.62 511.93,172.16 515.96,178.44 514.39,178.15 519.35,195.45"/>
<polygon points="536.17,195.91 529.91,179.6 528.83,180.78 528.27,173.33 532.83,179.24 531.24,179.08 537.5,195.39"/>
<polygon points="554.32,195.85 550.97,184.53 549.8,185.63 549.82,178.16 553.91,184.41 552.34,184.13 555.69,195.45"/>
<polygon points="572.47,195.76 571.74,191.15 570.44,192.08 571.44,184.69 574.68,191.41 573.15,190.93 573.88,195.54"/>
<polygon points="590.89,195.65 590.89,195.2 590,195.65 591.35,191.15 592.7,195.65 591.8,195.2 591.8,195.65"/>
<polygon points="453.16,216.85 453.34,217.03 453.52,216.5 454.75,218.8 452.45,217.56 452.98,217.38 452.81,217.21"/>
<polygon points="471.32,216.84 471.51,217 471.64,216.46 473.07,218.64 470.67,217.6 471.19,217.38 470.99,217.22"/>
<polygon points="490.04,217.03 489.68,217.65 488.97,217.65 488.61,217.03 488.97,216.41 489.68,216.41"/>
<polygon points="506.8,217.07 506.76,216.37 505.4,217.14 507.13,210.04 509.59,216.92 508.16,216.29 508.19,216.99"/>
<polygon points="524.95,217.05 524.83,213.69 523.43,214.46 525.32,207.24 527.72,214.31 526.26,213.64 526.38,217.01"/>
<polygon points="543.12,217.04 543.06,213.68 541.64,214.42 543.66,207.23 545.93,214.34 544.49,213.65 544.55,217.02"/>
<polygon points="561.35,216.83 561.55,216.17 560.03,216.42 564.02,210.43 563.98,217.64 562.87,216.57 562.66,217.23"/>
<polygon points="579.87,216.6 580.31,216.29 579.26,215.73 584.52,213.99 581.09,218.33 580.91,217.16 580.48,217.46"/>
<polygon points="598.24,216.75 598.52,216.65 598.04,216.18 601.16,216 598.65,217.88 598.73,217.21 598.45,217.31"/>
<polygon points="460.09,238.3 460.2,238.41 460.3,238.09 461.05,239.47 459.67,238.73 459.98,238.62 459.88,238.52"/>
<polygon points="478.31,238.23 478.49,238.38 478.62,237.86 479.99,239.95 477.69,238.96 478.18,238.75 478,238.59"/>
<polygon points="497.04,238.41 496.68,239.03 495.97,239.03 495.61,238.41 495.97,237.79 496.68,237.79"/>
<polygon points="514.4,238.3 514.51,238.2 514.21,238.07 515.64,237.45 514.78,238.75 514.71,238.43 514.59,238.52"/>
<polygon points="532.49,238.16 532.74,237.99 532.15,237.67 535.12,236.69 533.18,239.15 533.08,238.48 532.84,238.66"/>
<polygon points="550.68,237.99 551.1,237.83 550.37,237.14 555.06,236.87 551.3,239.68 551.41,238.68 550.99,238.83"/>
<polygon points="569.03,237.75 569.69,237.77 569.07,236.43 575.6,238.64 568.94,240.39 569.64,239.09 568.98,239.07"/>
<polygon points="587.32,237.73 588.01,237.87 587.61,236.36 594.02,239.87 586.74,240.46 587.71,239.24 587.03,239.09"/>
<polygon points="605.48,237.95 605.94,238.08 605.74,237.03 609.96,239.73 604.95,239.79 605.67,239 605.21,238.87"/>
<polygon points="467.7,259.79 467.34,260.41 466.63,260.41 466.27,259.79 466.63,259.17 467.34,259.17"/>
<polygon points="485.87,259.79 485.51,260.41 484.8,260.41 484.44,259.79 484.8,259.17 485.51,259.17"/>
<polygon points="504.04,259.79 503.68,260.41 502.97,260.41 502.61,259.79 502.97,259.17 503.68,259.17"/>
<polygon points="522.21,259.79 521.85,260.41 521.14,260.41 520.78,259.79 521.14,259.17 521.85,259.17"/>
<polygon points="539.8,259.52 540.07,259.66 540.07,258.99 542.34,261.15 539.26,260.59 539.8,260.19 539.53,260.06"/>
<polygon points="558.06,259.38 558.47,259.6 558.5,258.55 561.98,262 557.17,261.03 558.03,260.43 557.61,260.2"/>
<polygon points="576.28,259.26 576.81,259.53 576.82,258.19 581.35,262.51 575.19,261.39 576.27,260.6 575.73,260.32"/>
<polygon points="594.46,259.26 594.99,259.54 595.02,258.2 599.47,262.61 593.33,261.38 594.42,260.6 593.89,260.32"/>
<polygon points="612.51,259.43 612.88,259.6 612.85,258.7 615.97,261.48 611.84,260.88 612.54,260.32 612.18,260.15"/>
</g>
</g>
<rect x="392.55" y="20.45" width="237.05" height="256.85" fill="none" stroke="#2a2a2a" stroke-width="0.9"/>
<line x1="392.6" y1="277.3" x2="392.6" y2="279.6" stroke="#222" stroke-width="0.7" />
<text x="392.6" y="286.7" font-size="6.3" text-anchor="middle" fill="#222" font-family="Liberation Sans, sans-serif" textLength="22.04" lengthAdjust="spacingAndGlyphs" >137.15</text>
<line x1="438.1" y1="277.3" x2="438.1" y2="279.6" stroke="#222" stroke-width="0.7" />
<text x="438.1" y="286.7" font-size="6.3" text-anchor="middle" fill="#222" font-family="Liberation Sans, sans-serif" textLength="22.04" lengthAdjust="spacingAndGlyphs" >137.20</text>
<line x1="483.6" y1="277.3" x2="483.6" y2="279.6" stroke="#222" stroke-width="0.7" />
<text x="483.6" y="286.7" font-size="6.3" text-anchor="middle" fill="#222" font-family="Liberation Sans, sans-serif" textLength="22.04" lengthAdjust="spacingAndGlyphs" >137.25</text>
<line x1="529.1" y1="277.3" x2="529.1" y2="279.6" stroke="#222" stroke-width="0.7" />
<text x="529.1" y="286.7" font-size="6.3" text-anchor="middle" fill="#222" font-family="Liberation Sans, sans-serif" textLength="22.04" lengthAdjust="spacingAndGlyphs" >137.30</text>
<line x1="574.6" y1="277.3" x2="574.6" y2="279.6" stroke="#222" stroke-width="0.7" />
<text x="574.6" y="286.7" font-size="6.3" text-anchor="middle" fill="#222" font-family="Liberation Sans, sans-serif" textLength="22.04" lengthAdjust="spacingAndGlyphs" >137.35</text>
<line x1="390.25" y1="35.5" x2="392.55" y2="35.5" stroke="#222" stroke-width="0.7" />
<text x="388.25" y="37.8" font-size="6.3" text-anchor="end" fill="#222" font-family="Liberation Sans, sans-serif" textLength="4.01" lengthAdjust="spacingAndGlyphs" >0</text>
<line x1="390.25" y1="65.7" x2="392.55" y2="65.7" stroke="#222" stroke-width="0.7" />
<text x="388.25" y="68" font-size="6.3" text-anchor="end" fill="#222" font-family="Liberation Sans, sans-serif" textLength="4.01" lengthAdjust="spacingAndGlyphs" >2</text>
<line x1="390.25" y1="95.9" x2="392.55" y2="95.9" stroke="#222" stroke-width="0.7" />
<text x="388.25" y="98.2" font-size="6.3" text-anchor="end" fill="#222" font-family="Liberation Sans, sans-serif" textLength="4.01" lengthAdjust="spacingAndGlyphs" >4</text>
<line x1="390.25" y1="126.1" x2="392.55" y2="126.1" stroke="#222" stroke-width="0.7" />
<text x="388.25" y="128.4" font-size="6.3" text-anchor="end" fill="#222" font-family="Liberation Sans, sans-serif" textLength="4.01" lengthAdjust="spacingAndGlyphs" >6</text>
<line x1="390.25" y1="156.3" x2="392.55" y2="156.3" stroke="#222" stroke-width="0.7" />
<text x="388.25" y="158.6" font-size="6.3" text-anchor="end" fill="#222" font-family="Liberation Sans, sans-serif" textLength="4.01" lengthAdjust="spacingAndGlyphs" >8</text>
<line x1="390.25" y1="186.5" x2="392.55" y2="186.5" stroke="#222" stroke-width="0.7" />
<text x="388.25" y="188.8" font-size="6.3" text-anchor="end" fill="#222" font-family="Liberation Sans, sans-serif" textLength="8.01" lengthAdjust="spacingAndGlyphs" >10</text>
<line x1="390.25" y1="216.7" x2="392.55" y2="216.7" stroke="#222" stroke-width="0.7" />
<text x="388.25" y="219" font-size="6.3" text-anchor="end" fill="#222" font-family="Liberation Sans, sans-serif" textLength="8.01" lengthAdjust="spacingAndGlyphs" >12</text>
<line x1="390.25" y1="246.9" x2="392.55" y2="246.9" stroke="#222" stroke-width="0.7" />
<text x="388.25" y="249.2" font-size="6.3" text-anchor="end" fill="#222" font-family="Liberation Sans, sans-serif" textLength="8.01" lengthAdjust="spacingAndGlyphs" >14</text>
<line x1="390.25" y1="277.1" x2="392.55" y2="277.1" stroke="#222" stroke-width="0.7" />
<text x="388.25" y="279.4" font-size="6.3" text-anchor="end" fill="#222" font-family="Liberation Sans, sans-serif" textLength="8.01" lengthAdjust="spacingAndGlyphs" >16</text>
<text x="511.2" y="295.6" font-size="6.6" text-anchor="middle" fill="#222" font-family="Liberation Sans, sans-serif" textLength="31.19" lengthAdjust="spacingAndGlyphs" >longitude</text>
<text transform="translate(375.1,148.2) rotate(-90)" font-size="6.6" text-anchor="middle" fill="#222" font-family="Liberation Sans, sans-serif" textLength="36.74" lengthAdjust="spacingAndGlyphs">depth (km)</text>
<defs><linearGradient id="cb644" x1="0" y1="1" x2="0" y2="0">
<stop offset="0" stop-color="#fcfdcc"/>
<stop offset="0.02" stop-color="#fdf7c6"/>
<stop offset="0.03" stop-color="#fdf2c0"/>
<stop offset="0.05" stop-color="#fdeab8"/>
<stop offset="0.07" stop-color="#fee4b3"/>
<stop offset="0.09" stop-color="#feddac"/>
<stop offset="0.1" stop-color="#fed7a7"/>
<stop offset="0.12" stop-color="#fed1a1"/>
<stop offset="0.14" stop-color="#feca9b"/>
<stop offset="0.16" stop-color="#fec497"/>
<stop offset="0.17" stop-color="#febd91"/>
<stop offset="0.19" stop-color="#feb78d"/>
<stop offset="0.21" stop-color="#feb189"/>
<stop offset="0.22" stop-color="#fda985"/>
<stop offset="0.24" stop-color="#fda382"/>
<stop offset="0.26" stop-color="#fc9c7f"/>
<stop offset="0.28" stop-color="#fb967e"/>
<stop offset="0.29" stop-color="#f98e7d"/>
<stop offset="0.31" stop-color="#f7887c"/>
<stop offset="0.33" stop-color="#f5837d"/>
<stop offset="0.34" stop-color="#f17c7f"/>
<stop offset="0.36" stop-color="#ee7781"/>
<stop offset="0.38" stop-color="#ea7283"/>
<stop offset="0.4" stop-color="#e56f86"/>
<stop offset="0.41" stop-color="#e16b88"/>
<stop offset="0.43" stop-color="#db688b"/>
<stop offset="0.45" stop-color="#d6658e"/>
<stop offset="0.47" stop-color="#d06390"/>
<stop offset="0.48" stop-color="#ca6192"/>
<stop offset="0.5" stop-color="#c45e94"/>
<stop offset="0.52" stop-color="#bf5d96"/>
<stop offset="0.53" stop-color="#b95b97"/>
<stop offset="0.55" stop-color="#b35998"/>
<stop offset="0.57" stop-color="#ae5799"/>
<stop offset="0.59" stop-color="#a7559a"/>
<stop offset="0.6" stop-color="#a2539a"/>
<stop offset="0.62" stop-color="#9d529b"/>
<stop offset="0.64" stop-color="#974f9b"/>
<stop offset="0.66" stop-color="#924d9b"/>
<stop offset="0.67" stop-color="#8b4b9a"/>
<stop offset="0.69" stop-color="#86499a"/>
<stop offset="0.71" stop-color="#814799"/>
<stop offset="0.72" stop-color="#7b4498"/>
<stop offset="0.74" stop-color="#764297"/>
<stop offset="0.76" stop-color="#704095"/>
<stop offset="0.78" stop-color="#6a3f92"/>
<stop offset="0.79" stop-color="#643f8d"/>
<stop offset="0.81" stop-color="#5e4088"/>
<stop offset="0.83" stop-color="#594082"/>
<stop offset="0.84" stop-color="#524179"/>
<stop offset="0.86" stop-color="#4d4171"/>
<stop offset="0.88" stop-color="#484068"/>
<stop offset="0.9" stop-color="#443e60"/>
<stop offset="0.91" stop-color="#403d59"/>
<stop offset="0.93" stop-color="#3c3a50"/>
<stop offset="0.95" stop-color="#393849"/>
<stop offset="0.97" stop-color="#363541"/>
<stop offset="0.98" stop-color="#34343b"/>
<stop offset="1" stop-color="#333336"/>
</linearGradient></defs>
<rect x="644.1" y="45.9" width="10.9" height="205.6" fill="url(#cb644)" stroke="#444" stroke-width="0.7"/>
<g stroke="#fff" stroke-opacity="0.09" stroke-width="0.8">
<line x1="644.5" y1="51.3" x2="654.6" y2="51.3" stroke="#fff" stroke-width="0.8" />
<line x1="644.5" y1="56.7" x2="654.6" y2="56.7" stroke="#fff" stroke-width="0.8" />
<line x1="644.5" y1="62.1" x2="654.6" y2="62.1" stroke="#fff" stroke-width="0.8" />
<line x1="644.5" y1="67.5" x2="654.6" y2="67.5" stroke="#fff" stroke-width="0.8" />
<line x1="644.5" y1="72.9" x2="654.6" y2="72.9" stroke="#fff" stroke-width="0.8" />
<line x1="644.5" y1="78.3" x2="654.6" y2="78.3" stroke="#fff" stroke-width="0.8" />
<line x1="644.5" y1="83.7" x2="654.6" y2="83.7" stroke="#fff" stroke-width="0.8" />
<line x1="644.5" y1="89.1" x2="654.6" y2="89.1" stroke="#fff" stroke-width="0.8" />
<line x1="644.5" y1="94.5" x2="654.6" y2="94.5" stroke="#fff" stroke-width="0.8" />
<line x1="644.5" y1="99.9" x2="654.6" y2="99.9" stroke="#fff" stroke-width="0.8" />
<line x1="644.5" y1="105.3" x2="654.6" y2="105.3" stroke="#fff" stroke-width="0.8" />
<line x1="644.5" y1="110.7" x2="654.6" y2="110.7" stroke="#fff" stroke-width="0.8" />
<line x1="644.5" y1="116.1" x2="654.6" y2="116.1" stroke="#fff" stroke-width="0.8" />
<line x1="644.5" y1="121.5" x2="654.6" y2="121.5" stroke="#fff" stroke-width="0.8" />
<line x1="644.5" y1="126.9" x2="654.6" y2="126.9" stroke="#fff" stroke-width="0.8" />
<line x1="644.5" y1="132.3" x2="654.6" y2="132.3" stroke="#fff" stroke-width="0.8" />
<line x1="644.5" y1="137.7" x2="654.6" y2="137.7" stroke="#fff" stroke-width="0.8" />
<line x1="644.5" y1="143.1" x2="654.6" y2="143.1" stroke="#fff" stroke-width="0.8" />
<line x1="644.5" y1="148.5" x2="654.6" y2="148.5" stroke="#fff" stroke-width="0.8" />
<line x1="644.5" y1="153.9" x2="654.6" y2="153.9" stroke="#fff" stroke-width="0.8" />
<line x1="644.5" y1="159.3" x2="654.6" y2="159.3" stroke="#fff" stroke-width="0.8" />
<line x1="644.5" y1="164.7" x2="654.6" y2="164.7" stroke="#fff" stroke-width="0.8" />
<line x1="644.5" y1="170.1" x2="654.6" y2="170.1" stroke="#fff" stroke-width="0.8" />
<line x1="644.5" y1="175.5" x2="654.6" y2="175.5" stroke="#fff" stroke-width="0.8" />
<line x1="644.5" y1="180.9" x2="654.6" y2="180.9" stroke="#fff" stroke-width="0.8" />
<line x1="644.5" y1="186.3" x2="654.6" y2="186.3" stroke="#fff" stroke-width="0.8" />
<line x1="644.5" y1="191.7" x2="654.6" y2="191.7" stroke="#fff" stroke-width="0.8" />
<line x1="644.5" y1="197.1" x2="654.6" y2="197.1" stroke="#fff" stroke-width="0.8" />
<line x1="644.5" y1="202.5" x2="654.6" y2="202.5" stroke="#fff" stroke-width="0.8" />
<line x1="644.5" y1="207.9" x2="654.6" y2="207.9" stroke="#fff" stroke-width="0.8" />
<line x1="644.5" y1="213.3" x2="654.6" y2="213.3" stroke="#fff" stroke-width="0.8" />
<line x1="644.5" y1="218.7" x2="654.6" y2="218.7" stroke="#fff" stroke-width="0.8" />
<line x1="644.5" y1="224.1" x2="654.6" y2="224.1" stroke="#fff" stroke-width="0.8" />
<line x1="644.5" y1="229.5" x2="654.6" y2="229.5" stroke="#fff" stroke-width="0.8" />
<line x1="644.5" y1="234.9" x2="654.6" y2="234.9" stroke="#fff" stroke-width="0.8" />
<line x1="644.5" y1="240.3" x2="654.6" y2="240.3" stroke="#fff" stroke-width="0.8" />
<line x1="644.5" y1="245.7" x2="654.6" y2="245.7" stroke="#fff" stroke-width="0.8" />
</g>
<line x1="655" y1="251.5" x2="656.6" y2="251.5" stroke="#222" stroke-width="0.7" />
<text x="660" y="253.98" font-size="6.944000000000001" text-anchor="start" fill="#222" font-family="Liberation Sans, sans-serif" textLength="3.94" lengthAdjust="spacingAndGlyphs" >0</text>
<line x1="655" y1="227.35" x2="656.6" y2="227.35" stroke="#222" stroke-width="0.7" />
<text x="660" y="229.83" font-size="6.944000000000001" text-anchor="start" fill="#222" font-family="Liberation Sans, sans-serif" textLength="7.89" lengthAdjust="spacingAndGlyphs" >20</text>
<line x1="655" y1="203.21" x2="656.6" y2="203.21" stroke="#222" stroke-width="0.7" />
<text x="660" y="205.69" font-size="6.944000000000001" text-anchor="start" fill="#222" font-family="Liberation Sans, sans-serif" textLength="7.89" lengthAdjust="spacingAndGlyphs" >40</text>
<line x1="655" y1="179.06" x2="656.6" y2="179.06" stroke="#222" stroke-width="0.7" />
<text x="660" y="181.54" font-size="6.944000000000001" text-anchor="start" fill="#222" font-family="Liberation Sans, sans-serif" textLength="7.89" lengthAdjust="spacingAndGlyphs" >60</text>
<line x1="655" y1="154.92" x2="656.6" y2="154.92" stroke="#222" stroke-width="0.7" />
<text x="660" y="157.4" font-size="6.944000000000001" text-anchor="start" fill="#222" font-family="Liberation Sans, sans-serif" textLength="7.89" lengthAdjust="spacingAndGlyphs" >80</text>
<line x1="655" y1="130.77" x2="656.6" y2="130.77" stroke="#222" stroke-width="0.7" />
<text x="660" y="133.25" font-size="6.944000000000001" text-anchor="start" fill="#222" font-family="Liberation Sans, sans-serif" textLength="11.83" lengthAdjust="spacingAndGlyphs" >100</text>
<line x1="655" y1="106.63" x2="656.6" y2="106.63" stroke="#222" stroke-width="0.7" />
<text x="660" y="109.11" font-size="6.944000000000001" text-anchor="start" fill="#222" font-family="Liberation Sans, sans-serif" textLength="11.83" lengthAdjust="spacingAndGlyphs" >120</text>
<line x1="655" y1="82.48" x2="656.6" y2="82.48" stroke="#222" stroke-width="0.7" />
<text x="660" y="84.96" font-size="6.944000000000001" text-anchor="start" fill="#222" font-family="Liberation Sans, sans-serif" textLength="11.83" lengthAdjust="spacingAndGlyphs" >140</text>
<line x1="655" y1="58.33" x2="656.6" y2="58.33" stroke="#222" stroke-width="0.7" />
<text x="660" y="60.81" font-size="6.944000000000001" text-anchor="start" fill="#222" font-family="Liberation Sans, sans-serif" textLength="11.83" lengthAdjust="spacingAndGlyphs" >160</text>
<text transform="translate(682.7,148.6) rotate(-90)" font-size="10.5" text-anchor="middle" fill="#222" font-family="Liberation Sans, sans-serif" textLength="102.8" lengthAdjust="spacingAndGlyphs">Estimated slip (cm)</text>
<text x="367.3" y="13.9" font-size="17.6" text-anchor="start" fill="#231f20" font-family="Liberation Sans, sans-serif" textLength="20.4" lengthAdjust="spacingAndGlyphs" >(b)</text>
</svg>
</body></html>
